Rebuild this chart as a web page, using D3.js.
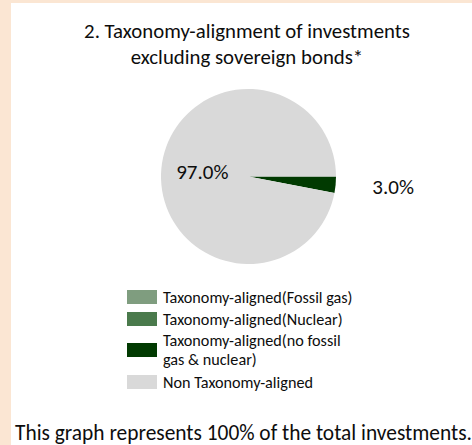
<!DOCTYPE html>
<html>
<head>
<meta charset="utf-8">
<script src="https://cdn.jsdelivr.net/npm/d3@7"></script>
<style>
  html, body { margin: 0; padding: 0; background: #ffffff; }
  svg { display: block; }
  text { font-family: Carlito, Lato, "Open Sans", sans-serif; fill: #0d0d0d; }
</style>
</head>
<body>
<script>
// Portfolio split by taxonomy alignment (percent of investments, excluding sovereign bonds)
const categories = [
  "Taxonomy-aligned(Fossil gas)",
  "Taxonomy-aligned(Nuclear)",
  "Taxonomy-aligned(no fossil gas & nuclear)",
  "Non Taxonomy-aligned"
];
const values = [0, 0, 3.0, 97.0];
const colors = ["#7f9d7f", "#4a7a4c", "#013a01", "#d9d9d9"];
const legendLines = [
  ["Taxonomy-aligned(Fossil gas)"],
  ["Taxonomy-aligned(Nuclear)"],
  ["Taxonomy-aligned(no fossil", "gas & nuclear)"],
  ["Non Taxonomy-aligned"]
];
const titleLines = ["2. Taxonomy-alignment of investments", "excluding sovereign bonds*"];
const footnote = "This graph represents 100% of the total investments.";

const W = 472, H = 445;
const svg = d3.select("body").append("svg").attr("width", W).attr("height", H);

// page frame: peach strips along the top and left edges
svg.append("rect").attr("x", 0).attr("y", 0).attr("width", W).attr("height", H).attr("fill", "#fbe6d3");
svg.append("rect").attr("x", 11).attr("y", 3).attr("width", W - 11).attr("height", H - 3).attr("fill", "#ffffff");

// title
svg.append("g").selectAll("text").data(titleLines).join("text")
  .attr("x", 247).attr("y", (d, i) => 38 + i * 25.5)
  .attr("text-anchor", "middle").attr("font-size", 20.8)
  .text(d => d);

// pie
const cx = 248.5, cy = 176.5, r = 87.5;
const pie = d3.pie().sort(null).value(d => d.value)
  .startAngle(Math.PI / 2).endAngle(Math.PI / 2 + 2 * Math.PI);
const data = categories.map((c, i) => ({ name: c, value: values[i], color: colors[i] }));
const arcs = pie(data);
const arc = d3.arc().innerRadius(0).outerRadius(r);
const g = svg.append("g").attr("transform", `translate(${cx},${cy})`);
g.selectAll("path").data(arcs.filter(a => a.data.value > 0)).join("path")
  .attr("d", arc).attr("fill", d => d.data.color);

// data labels: inside for large slices, outside for thin ones
const inner = d3.arc().innerRadius(r * 0.53).outerRadius(r * 0.53);
const outer = d3.arc().innerRadius(r * 1.66).outerRadius(r * 1.66);
const fmt = d3.format(".1f");
g.selectAll("text.lbl").data(arcs.filter(a => a.data.value > 0)).join("text")
  .attr("class", "lbl")
  .attr("transform", d => {
    const big = d.data.value > 20;
    const c = (big ? inner : outer).centroid(d);
    return `translate(${c[0]},${c[1] - (big ? 0 : 4)})`;
  })
  .attr("text-anchor", "middle").attr("dy", "0.35em").attr("font-size", 21)
  .text(d => fmt(d.data.value) + "%");

// legend
const rowY = [297, 319, 350, 382];
const lg = svg.append("g");
const rows = lg.selectAll("g").data(data).join("g")
  .attr("transform", (d, i) => `translate(127,${rowY[i]})`);
rows.append("rect").attr("x", 0).attr("y", -7).attr("width", 30).attr("height", 14)
  .attr("fill", d => d.color);
rows.append("text").attr("x", 36).attr("font-size", 16.2)
  .selectAll("tspan").data((d, i) => legendLines[i].map((t, j, a) => ({ t, j, n: a.length })))
  .join("tspan")
  .attr("x", 36)
  .attr("y", d => (d.j - (d.n - 1) / 2) * 19.6)
  .attr("dy", "0.35em")
  .text(d => d.t);

// footnote
svg.append("text").attr("x", 15).attr("y", 440).attr("font-size", 21.4).text(footnote);
</script>
</body>
</html>
